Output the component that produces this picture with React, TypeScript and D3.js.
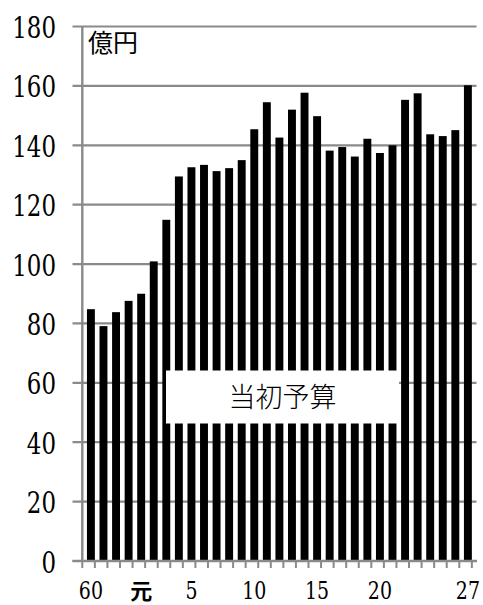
import React from "react";
import * as d3 from "d3";

// Fiscal years: Showa 60–63, then Heisei 元(1)–27
const years: string[] = [
  "60", "61", "62", "63", "元", "2", "3", "4", "5", "6", "7", "8", "9", "10",
  "11", "12", "13", "14", "15", "16", "17", "18", "19", "20", "21", "22", "23",
  "24", "25", "26", "27",
];

// 当初予算 (億円)
const budget: number[] = [
  84.8, 79.1, 83.8, 87.6, 90.0, 100.9, 114.9, 129.5, 132.6, 133.4, 131.3,
  132.3, 135.0, 145.4, 154.5, 142.6, 152.0, 157.7, 149.8, 138.2, 139.4, 136.2,
  142.2, 137.4, 140.0, 155.3, 157.5, 143.7, 143.1, 145.1, 160.2,
];

const yTicks: number[] = [0, 20, 40, 60, 80, 100, 120, 140, 160, 180];
const xLabelYears: string[] = ["60", "元", "5", "10", "15", "20", "27"];

const W = 483;
const H = 605;
const left = 82.3;
const right = 476.5;
const top = 26.5;
const bottom = 561;
const GRID = "#8a8a8a";
const SERIF = "DejaVu Serif";
const GOTHIC = "Noto Sans CJK JP, Noto Sans, sans-serif";
// DejaVu Serif digits are wide; narrow them horizontally
const NARROW = 0.79;
const X_LABEL_BASE = 599;

export default function App() {
  const x = d3.scaleBand<string>().domain(years).range([left, right]).padding(0.37);
  const y = d3.scaleLinear().domain([0, 180]).range([bottom, top]);
  const step = x.step();
  const boundaries = d3.range(years.length + 1).map((i) => left + i * step);

  return (
    <div style={{ position: "fixed", left: 0, top: 0 }}>
      <svg width={W} height={H} style={{ display: "block", background: "#fff" }}>
        {/* horizontal gridlines with left ticks */}
        {yTicks.map((t) => (
          <line key={"g" + t} x1={72.5} x2={right} y1={y(t)} y2={y(t)} stroke={GRID} strokeWidth={2.2} />
        ))}
        {/* y tick labels */}
        {yTicks.map((t) => (
          <g key={"yl" + t} transform={`translate(56,${y(t) + 11.5}) scale(${NARROW},1)`}>
            <text textAnchor="end" style={{ fontFamily: SERIF, fontSize: 29 }} fill="#000">
              {t}
            </text>
          </g>
        ))}
        {/* bars */}
        {budget.map((v, i) => (
          <rect key={"b" + i} x={x(years[i])} y={y(v)} width={x.bandwidth()} height={y(0) - y(v)} fill="#000" />
        ))}
        {/* y axis line */}
        <line x1={left} x2={left} y1={top} y2={bottom} stroke={GRID} strokeWidth={2.4} />
        {/* x axis line and category ticks */}
        <line x1={72.5} x2={right + 0.5} y1={bottom} y2={bottom} stroke={GRID} strokeWidth={2.4} />
        {boundaries.map((bx, i) => (
          <line key={"xt" + i} x1={bx} x2={bx} y1={bottom} y2={bottom + 7} stroke={GRID} strokeWidth={2} />
        ))}
        {/* x tick labels */}
        {xLabelYears.map((yr) => {
          const cx = (x(yr) as number) + x.bandwidth() / 2;
          if (yr === "元") {
            return (
              <text
                key={"xl" + yr}
                x={cx}
                y={X_LABEL_BASE}
                textAnchor="middle"
                style={{ fontFamily: GOTHIC, fontWeight: 700, fontSize: 22 }}
                fill="#000"
              >
                {yr}
              </text>
            );
          }
          return (
            <g key={"xl" + yr} transform={`translate(${cx},${X_LABEL_BASE}) scale(${NARROW},1)`}>
              <text textAnchor="middle" style={{ fontFamily: SERIF, fontSize: 24 }} fill="#000">
                {yr}
              </text>
            </g>
          );
        })}
        {/* unit label */}
        <text x={88} y={52} style={{ fontFamily: GOTHIC, fontSize: 25 }} fill="#000">
          億円
        </text>
        {/* series label box */}
        <rect x={166} y={370.5} width={233} height={53} fill="#fff" />
        <text
          x={282.5}
          y={406.5}
          textAnchor="middle"
          style={{ fontFamily: GOTHIC, fontSize: 27, fontWeight: 300 }}
          fill="#000"
        >
          当初予算
        </text>
      </svg>
    </div>
  );
}
